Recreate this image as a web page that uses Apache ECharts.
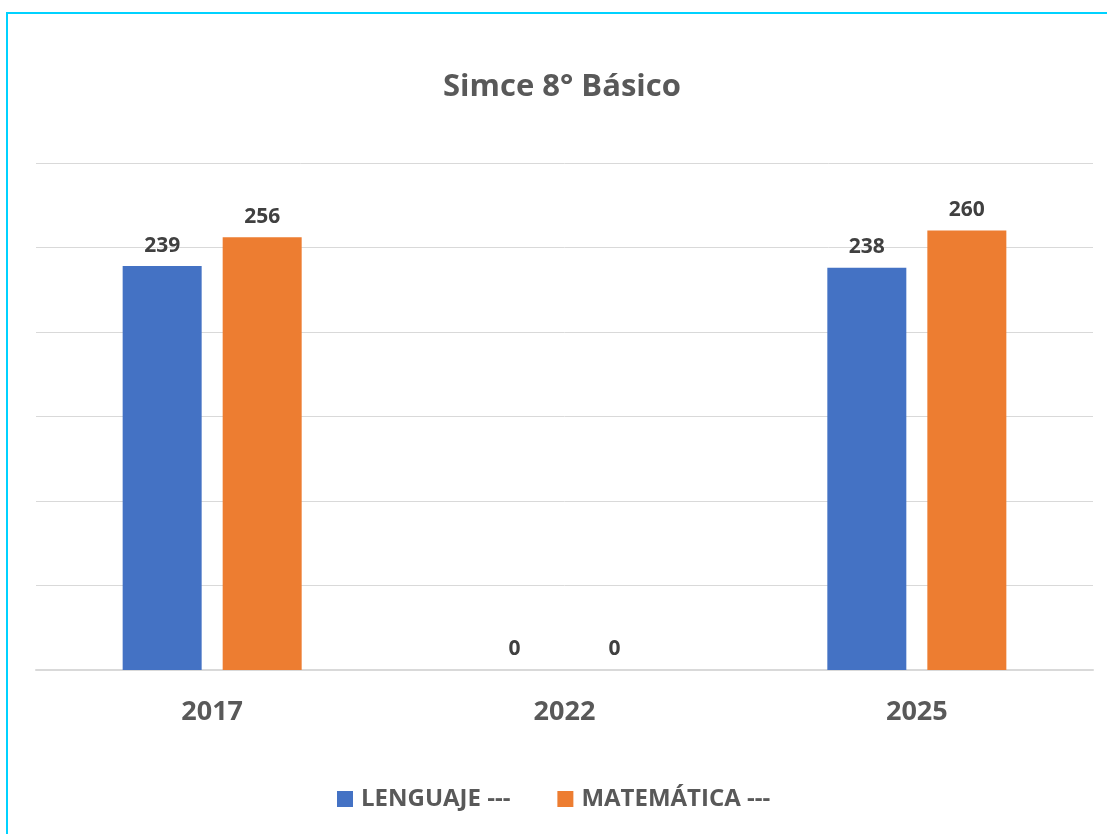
<!DOCTYPE html>
<html>
<head>
<meta charset="utf-8">
<script src="https://cdn.jsdelivr.net/npm/echarts@6/dist/echarts.min.js"></script>
<style>html,body{margin:0;padding:0;background:#fff}#c{width:1107px;height:834px}</style>
</head>
<body>
<div id="c"></div>
<script>
const categories = ['2017', '2022', '2025'];
const lenguaje = [239, 0, 238];
const matematica = [256, 0, 260];
const seriesNames = ['LENGUAJE ---', 'MATEMÁTICA ---'];
const titleText = 'Simce 8° Básico';

const chart = echarts.init(document.getElementById('c'));
const FONT = '"Open Sans", sans-serif';
const labelStyle = {
  show: true, position: 'top', distance: 10,
  color: '#404040', fontFamily: FONT, fontWeight: 'bold', fontSize: 21
};
chart.setOption({
  animation: false,
  backgroundColor: '#fff',
  title: {
    text: titleText, left: 438, top: 67,
    textStyle: { color: '#595959', fontFamily: FONT, fontWeight: 'bold', fontSize: 31 }
  },
  graphic: [{
    type: 'rect', shape: { x: 7, y: 13, width: 1200, height: 900 },
    style: { fill: 'none', stroke: '#00D2FF', lineWidth: 2 }, z: 100
  }],
  legend: {
    bottom: 18, left: 332, itemWidth: 16, itemHeight: 16, itemGap: 47,
    icon: 'rect',
    textStyle: { color: '#595959', fontFamily: FONT, fontWeight: 'bold', fontSize: 24, padding: [0, 0, 0, 3] },
    data: seriesNames
  },
  grid: { left: 36, right: 14, top: 163, bottom: 164 },
  xAxis: {
    type: 'category', data: categories,
    axisLine: { lineStyle: { color: '#D9D9D9', width: 2 } },
    axisTick: { show: false },
    axisLabel: { color: '#595959', fontFamily: FONT, fontWeight: 'bold', fontSize: 27, margin: 29 }
  },
  yAxis: {
    type: 'value', min: 0, max: 300, interval: 50,
    axisLabel: { show: false }, axisLine: { show: false }, axisTick: { show: false },
    splitLine: { lineStyle: { color: '#D9D9D9', width: 1 } }
  },
  series: [
    { name: seriesNames[0], type: 'bar', data: lenguaje, barWidth: 79, barGap: '26.6%',
      itemStyle: { color: '#4472C4' }, label: labelStyle },
    { name: seriesNames[1], type: 'bar', data: matematica, barWidth: 79,
      itemStyle: { color: '#ED7D31' }, label: labelStyle }
  ]
});
</script>
</body>
</html>
